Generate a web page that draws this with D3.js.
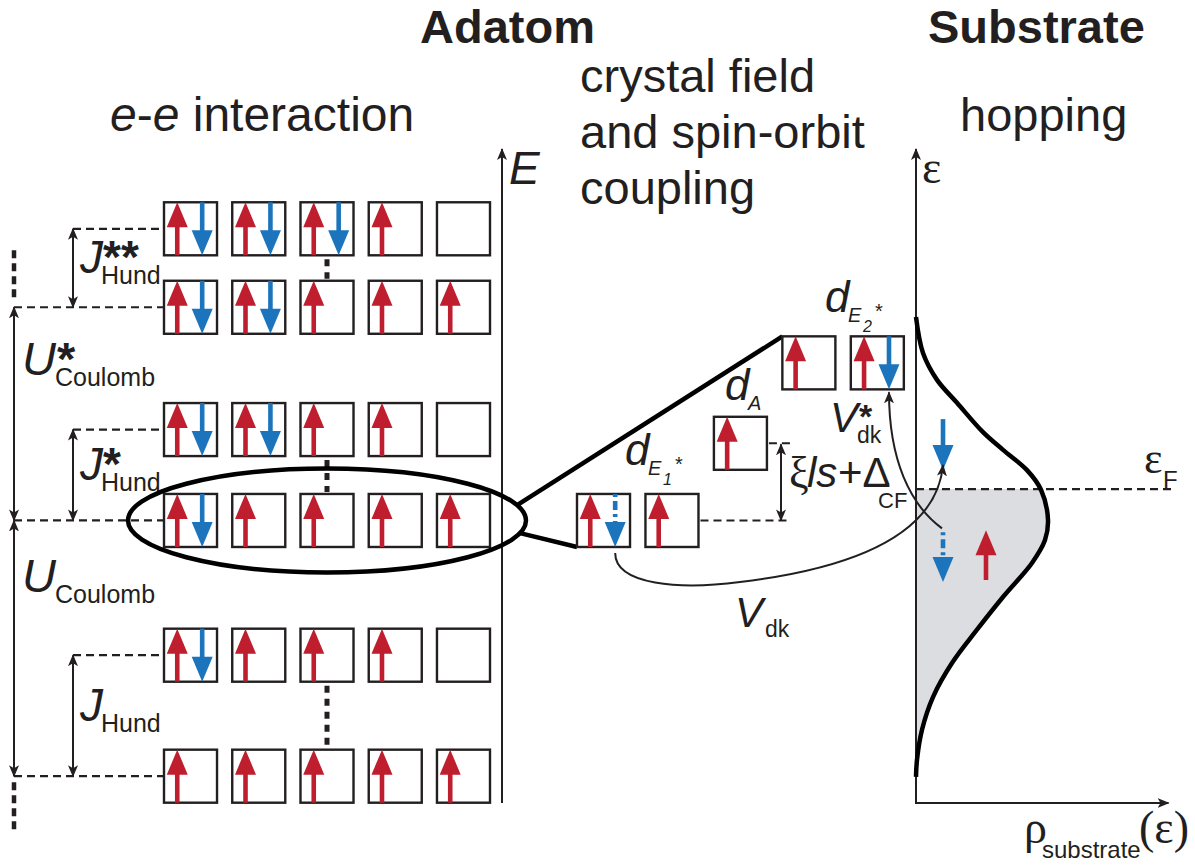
<!DOCTYPE html>
<html><head><meta charset="utf-8">
<script src="https://cdn.jsdelivr.net/npm/d3@7"></script>
<style>
body{margin:0;background:#fff}
svg{display:block}
text{font-family:"Liberation Sans",Arial,Helvetica,sans-serif;fill:#231f20}
.serif{font-family:"Liberation Serif","Times New Roman",serif}
</style>
</head><body>
<svg id="c" width="1195" height="865"></svg>
<script>
// ---------------- data ----------------
const orbitals = [0, 1, 2, 3, 4];
// many-body configurations of the adatom (energy, arbitrary units) and orbital occupations
// u = spin up, d = spin down, x = virtual (dashed) spin down
const configEnergies = [8.78, 7.58, 5.71, 4.32, 2.26, 0.41];
const configOccupations = [
  ["ud", "ud", "ud", "u", ""],
  ["ud", "ud", "u", "u", "u"],
  ["ud", "ud", "u", "u", ""],
  ["ud", "u", "u", "u", "u"],
  ["ud", "u", "u", "u", ""],
  ["u", "u", "u", "u", "u"]
];
const hundPairs = [[0, 1], [2, 3], [4, 5]];
const hundStars = ["**", "*", ""];
const coulombPairs = [[1, 3], [3, 5]];
const coulombStars = ["*", ""];
const groundConfig = 3;

// crystal field + spin-orbit split single-particle levels
const cfNames = ["E_1", "A", "E_2"];
const cfStars = ["*", "", "*"];
const cfEnergies = [4.32, 5.50, 6.73];
const cfOrbitals = [[0, 1], [2], [3, 4]];
const cfOccupations = [["ux", "u"], ["u"], ["u", "ud"]];

// substrate density of states
const dosEnergy  = [7.43, 6.88, 6.47, 6.12, 5.67, 5.40, 5.09, 4.79, 4.33, 4.02, 3.67, 3.15, 2.65, 2.14, 1.62, 1.12, 0.66, 0.40];
const dosDensity = [0.00, 0.28, 0.84, 1.64, 2.68, 3.48, 4.44, 5.00, 5.28, 5.16, 4.64, 3.48, 2.44, 1.44, 0.68, 0.24, 0.04, 0.00];
const fermiEnergy = 4.80;
// substrate electrons: density position, tail energy, tip energy, kind
const substrateSpins = [
  {rho: 1.08, from: 5.87, to: 5.09, kind: "d"},
  {rho: 1.08, from: 4.14, to: 3.38, kind: "x"},
  {rho: 2.80, from: 3.41, to: 4.17, kind: "u"}
];

// ---------------- setup ----------------
const ink = "#231f20", red = "#be1e2d", blue = "#1c75bc", shade = "#dcdde0";
const svg = d3.select("#c");
const yE = d3.scaleLinear().domain([0, 10]).range([803, 149]);
const xL = d3.scaleBand().domain(orbitals).range([164, 490]).paddingInner(0.223).paddingOuter(0);
const xM = d3.scaleBand().domain(orbitals).range([577, 904]).paddingInner(0.223).paddingOuter(0);
const xS = d3.scaleLinear().domain([0, 10]).range([916, 1166]);
const bw = xL.bandwidth();
const xU = 14, xJ = 73, xEaxis = 502;

const defs = svg.append("defs");
defs.append("marker").attr("id", "ah").attr("viewBox", "0 0 12 10")
  .attr("refX", 11).attr("refY", 5).attr("markerWidth", 12).attr("markerHeight", 10)
  .attr("markerUnits", "userSpaceOnUse").attr("orient", "auto-start-reverse")
  .append("path").attr("d", "M0,0 L12,5 L0,10 L3,5 Z").attr("fill", ink);

function spin(g, x, yFrom, yTo, color, dashed) {
  const dir = Math.sign(yTo - yFrom);
  const headL = 25, headW = 10.5;
  const yBase = yTo - dir * headL;
  g.append("line").attr("x1", x).attr("x2", x).attr("y1", yFrom).attr("y2", yBase + dir * 2)
    .attr("stroke", color).attr("stroke-width", 4.6)
    .attr("stroke-dasharray", dashed ? "3,4,9,4" : null);
  g.append("path").attr("d", `M${x},${yTo} L${x - headW},${yBase} L${x + headW},${yBase} Z`).attr("fill", color);
}
function orbitalBox(g, x0, yc, occ) {
  const top = yc - bw / 2, bot = yc + bw / 2;
  g.append("rect").attr("x", x0).attr("y", top).attr("width", bw).attr("height", bw)
    .attr("fill", "#fff").attr("stroke", ink).attr("stroke-width", 2.4);
  if (occ.includes("u")) spin(g, x0 + bw * 0.25, bot, top, red, false);
  if (occ.includes("d")) spin(g, x0 + bw * 0.72, top, bot, blue, false);
  if (occ.includes("x")) spin(g, x0 + bw * 0.72, top, bot, blue, true);
}
function vArrow(g, x, y1, y2, both) {
  g.append("line").attr("x1", x).attr("x2", x).attr("y1", y1).attr("y2", y2)
    .attr("stroke", ink).attr("stroke-width", 2)
    .attr("marker-start", both ? "url(#ah)" : null).attr("marker-end", "url(#ah)");
}
function txt(x, y, s, size, opts = {}) {
  const t = svg.append("text").attr("x", x).attr("y", y).attr("font-size", size).text(s);
  if (opts.italic) t.attr("font-style", "italic");
  if (opts.bold) t.attr("font-weight", "bold");
  if (opts.serif) t.attr("class", "serif");
  return t;
}

// ---------------- titles ----------------
txt(420, 43, "Adatom", 47, {bold: true});
txt(928, 43, "Substrate", 47, {bold: true});
const ee = svg.append("text").attr("x", 110).attr("y", 131).attr("font-size", 48);
ee.append("tspan").attr("font-style", "italic").text("e");
ee.append("tspan").text("-");
ee.append("tspan").attr("font-style", "italic").text("e");
ee.append("tspan").text(" interaction");
["crystal field", "and spin-orbit", "coupling"].forEach((s, i) => txt(580, 92 + i * 56, s, 47));
txt(960, 131, "hopping", 47);

// ---------------- left panel ----------------
const gL = svg.append("g");
const hundTops = hundPairs.map(p => p[0]);
configEnergies.forEach((e, i) => {
  const y = yE(e);
  const x0 = hundTops.includes(i) ? xJ : xU;
  gL.append("line").attr("x1", x0).attr("x2", xL(0)).attr("y1", y).attr("y2", y)
    .attr("stroke", ink).attr("stroke-width", 2.2).attr("stroke-dasharray", "8,5");
});
configEnergies.forEach((e, i) => {
  configOccupations[i].forEach((occ, j) => orbitalBox(gL, xL(j), yE(e), occ));
});
// dotted vertical between paired configurations
hundPairs.forEach(([a, b]) => {
  const xc = xL(2) + bw / 2;
  gL.append("line").attr("x1", xc).attr("x2", xc)
    .attr("y1", yE(configEnergies[a]) + bw / 2 + 4).attr("y2", yE(configEnergies[b]) - bw / 2 - 2)
    .attr("stroke", ink).attr("stroke-width", 5).attr("stroke-dasharray", "7,6");
});
// Hund arrows + labels
hundPairs.forEach(([a, b], k) => {
  const y1 = yE(configEnergies[a]), y2 = yE(configEnergies[b]);
  vArrow(gL, xJ, y1, y2, true);
  const base = (y1 + y2) / 2 + 5;
  const t = svg.append("text").attr("x", xJ + 7).attr("y", base).attr("font-size", 46);
  t.append("tspan").attr("font-style", "italic").text("J");
  if (hundStars[k]) t.append("tspan").attr("font-weight", "bold").attr("dx", 0).text(hundStars[k]);
  txt(xJ + 28, base + 11, "Hund", 25);
});
// Coulomb arrows + labels
coulombPairs.forEach(([a, b], k) => {
  const y1 = yE(configEnergies[a]), y2 = yE(configEnergies[b]);
  vArrow(gL, xU, y1, y2, true);
  const base = y1 + 68 + k * 4;
  const t = svg.append("text").attr("x", xU + 8).attr("y", base).attr("font-size", 47);
  t.append("tspan").attr("font-style", "italic").text("U");
  if (coulombStars[k]) t.append("tspan").attr("font-weight", "bold").attr("dx", 1).text(coulombStars[k]);
  txt(xU + 41, base + 11, "Coulomb", 25);
});
// dotted continuations
gL.append("line").attr("x1", xU).attr("x2", xU).attr("y1", yE(configEnergies[1]) - 10).attr("y2", yE(configEnergies[1]) - 58)
  .attr("stroke", ink).attr("stroke-width", 4.5).attr("stroke-dasharray", "8,5");
gL.append("line").attr("x1", xU).attr("x2", xU).attr("y1", yE(configEnergies[5]) + 6).attr("y2", yE(configEnergies[5]) + 56)
  .attr("stroke", ink).attr("stroke-width", 4.5).attr("stroke-dasharray", "8,5");

// E axis
vArrow(svg, xEaxis, yE(0), yE(10), false);
txt(xEaxis + 7, 184, "E", 46, {italic: true});

// ellipse round the ground configuration and zoom lines
const ecx = xL(2) + bw / 2, ecy = yE(configEnergies[groundConfig]), erx = 199, ery = 52;
svg.append("ellipse").attr("cx", ecx).attr("cy", ecy).attr("rx", erx).attr("ry", ery)
  .attr("fill", "none").attr("stroke", "#000").attr("stroke-width", 4.5);
const ang1 = -0.30, ang2 = 0.245;
svg.append("line").attr("x1", ecx + erx * Math.cos(ang1)).attr("y1", ecy + ery * Math.sin(ang1))
  .attr("x2", xM(3)).attr("y2", yE(cfEnergies[2]) - bw / 2).attr("stroke", "#000").attr("stroke-width", 4.5);
svg.append("line").attr("x1", ecx + erx * Math.cos(ang2)).attr("y1", ecy + ery * Math.sin(ang2))
  .attr("x2", xM(0)).attr("y2", yE(cfEnergies[0]) + bw / 2).attr("stroke", "#000").attr("stroke-width", 4.5);

// ---------------- middle panel ----------------
const gM = svg.append("g");
cfEnergies.forEach((e, k) => {
  cfOrbitals[k].forEach((j, idx) => orbitalBox(gM, xM(j), yE(e), cfOccupations[k][idx]));
});
// splitting marker
const xXi = 781;
gM.append("line").attr("x1", xM(1) + bw + 2).attr("x2", xXi + 10).attr("y1", yE(cfEnergies[0])).attr("y2", yE(cfEnergies[0]))
  .attr("stroke", ink).attr("stroke-width", 2).attr("stroke-dasharray", "8,5");
gM.append("line").attr("x1", xM(2) + bw + 2).attr("x2", xXi + 12).attr("y1", yE(cfEnergies[1])).attr("y2", yE(cfEnergies[1]))
  .attr("stroke", ink).attr("stroke-width", 2).attr("stroke-dasharray", "8,5");
vArrow(gM, xXi, yE(cfEnergies[1]) + 1, yE(cfEnergies[0]), true);
txt(789, 487, "ξ", 44, {serif: true});
txt(807, 487, "ls", 42, {italic: true});
txt(838, 487, "+Δ", 42);
txt(878, 508, "CF", 22);

// level labels
function dLabel(x, base, sub, star, subSize) {
  txt(x, base, "d", 44, {italic: true});
  const parts = sub.split("_");
  txt(x + 23, base + 10, parts[0], subSize, {italic: true});
  if (parts[1]) txt(x + 38, base + 20, parts[1], 16, {italic: true});
  if (star) txt(x + 50, base + 6, star, 20);
}
dLabel(625, 465, cfNames[0], cfStars[0], 20);
dLabel(725, 400, cfNames[1], cfStars[1], 20);
dLabel(825, 312, cfNames[2], cfStars[2], 20);

// ---------------- substrate panel ----------------
const gS = svg.append("g");
const dosPts = dosEnergy.map((e, i) => ({e, r: dosDensity[i]}));
const crv = d3.curveCatmullRom.alpha(0.5);
defs.append("clipPath").attr("id", "below").append("rect")
  .attr("x", xS(0)).attr("y", yE(fermiEnergy)).attr("width", 300).attr("height", yE(0) - yE(fermiEnergy));
gS.append("path").datum(dosPts).attr("clip-path", "url(#below)")
  .attr("d", d3.area().y(d => yE(d.e)).x0(xS(0)).x1(d => xS(d.r)).curve(crv))
  .attr("fill", shade);
gS.append("line").attr("x1", xS(0)).attr("x2", xS(10.2)).attr("y1", yE(fermiEnergy)).attr("y2", yE(fermiEnergy))
  .attr("stroke", ink).attr("stroke-width", 2.2).attr("stroke-dasharray", "8,5");
vArrow(gS, xS(0), yE(0), yE(10), false);
gS.append("line").attr("x1", xS(0) - 1).attr("x2", xS(10.1)).attr("y1", yE(0)).attr("y2", yE(0))
  .attr("stroke", ink).attr("stroke-width", 2).attr("marker-end", "url(#ah)");
gS.append("path").datum(dosPts)
  .attr("d", d3.line().x(d => xS(d.r)).y(d => yE(d.e)).curve(crv))
  .attr("fill", "none").attr("stroke", "#000").attr("stroke-width", 4.5);
substrateSpins.forEach(s => {
  const color = s.kind === "u" ? red : blue;
  spin(gS, xS(s.rho), yE(s.from), yE(s.to), color, s.kind === "x");
});
txt(xS(0) + 6, 183, "ε", 46, {serif: true});
txt(1144, 473, "ε", 44, {serif: true});
txt(1163, 488, "F", 24);
txt(1024, 843, "ρ", 46, {serif: true});
txt(1042, 858, "substrate", 24);
txt(1139, 843, "(ε)", 46, {serif: true});

// hopping arrows
const xTip = xS(substrateSpins[0].rho);
const xDownE2 = xM(4) + bw * 0.72;
svg.append("path")
  .attr("d", `M${xTip - 1},${yE(4.2)} C910,505 ${xDownE2},460 ${xDownE2},${yE(cfEnergies[2]) + bw / 2 + 3}`)
  .attr("fill", "none").attr("stroke", ink).attr("stroke-width", 2).attr("marker-end", "url(#ah)");
const xStart = xM(0) + bw * 0.72;
svg.append("path")
  .attr("d", `M${xStart},${yE(cfEnergies[0]) + bw / 2 + 6} C${xStart},585 680,590 740,582 C840,570 ${xTip - 7},540 ${xTip},${yE(substrateSpins[0].to) - 5}`)
  .attr("fill", "none").attr("stroke", ink).attr("stroke-width", 2).attr("marker-end", "url(#ah)");
txt(830, 432, "V", 42, {italic: true});
txt(859, 428, "*", 34, {bold: true});
txt(857, 443, "dk", 23);
txt(735, 627, "V", 42, {italic: true});
txt(765, 637, "dk", 23);
</script>
</body></html>
